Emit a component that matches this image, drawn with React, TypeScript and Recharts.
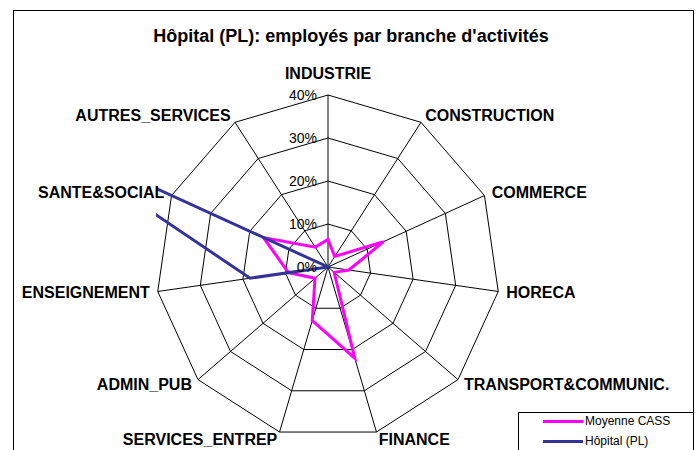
import React from "react";
import {
  RadarChart,
  Radar,
  PolarGrid,
  PolarAngleAxis,
  PolarRadiusAxis,
  Legend,
} from "recharts";

// branches d'activités, dans le sens horaire depuis le haut
const categories = [
  "INDUSTRIE",
  "CONSTRUCTION",
  "COMMERCE",
  "HORECA",
  "TRANSPORT&COMMUNIC.",
  "FINANCE",
  "SERVICES_ENTREP",
  "ADMIN_PUB",
  "ENSEIGNEMENT",
  "SANTE&SOCIAL",
  "AUTRES_SERVICES",
];

// % des employés
const moyenneCass = [6.4, 2.9, 14.2, 4.9, 1.9, 22.1, 13.0, 4.0, 9.3, 16.5, 5.5];
const hopitalPL = [0, 0, 0, 0, 0, 0, 0, 0, 18.3, 75, 0];

const radiusTicks = [0, 10, 20, 30, 40];
const legendOrder = ["Moyenne CASS", "Hôpital (PL)"];

const data = categories.map((name, i) => ({
  name,
  moyenne: moyenneCass[i],
  hopital: hopitalPL[i],
}));

const CX = 328;
const CY = 267;
const R = 172;
const FONT = "Arial, 'Liberation Sans', sans-serif";

const AngleTick = (props: any) => {
  const { x, y, payload, textAnchor } = props;
  const isTop = textAnchor === "middle";
  return (
    <text
      x={x}
      y={isTop ? y - 8 : y}
      textAnchor={textAnchor}
      dominantBaseline={isTop ? "auto" : "central"}
      fontFamily={FONT}
      fontSize={16}
      fontWeight="bold"
      fill="#000"
    >
      {payload.value}
    </text>
  );
};

const RadiusTick = (props: any) => {
  const { x, y, payload } = props;
  return (
    <text
      x={x - 11}
      y={y}
      textAnchor="end"
      dominantBaseline="central"
      fontFamily={FONT}
      fontSize={14}
      fill="#000"
    >
      {`${payload.value}%`}
    </text>
  );
};

// Excel coupe la série à la zone de traçage
const ClippedShape = (props: any) => {
  const pts = props.points || [];
  const d =
    pts.map((p: any, i: number) => `${i ? "L" : "M"}${p.x},${p.y}`).join("") + "Z";
  return (
    <g>
      <defs>
        <clipPath id="plotArea">
          <rect x={CX - R} y={CY - R} width={2 * R} height={2 * R} />
        </clipPath>
      </defs>
      <path
        d={d}
        fill="none"
        stroke={props.stroke}
        strokeWidth={props.strokeWidth}
        clipPath="url(#plotArea)"
      />
    </g>
  );
};

const LegendBox = (props: any) => {
  const items = [...(props.payload || [])].sort(
    (a: any, b: any) => legendOrder.indexOf(a.value) - legendOrder.indexOf(b.value)
  );
  return (
    <div
      style={{
        border: "1px solid #000",
        width: 176,
        height: 50,
        boxSizing: "border-box",
        background: "#fff",
      }}
    >
      {items.map((it: any, i: number) => (
        <div
          key={it.value}
          style={{
            display: "flex",
            alignItems: "center",
            height: 20,
            marginTop: i === 0 ? -2 : 0,
          }}
        >
          <div
            style={{
              marginLeft: 24,
              width: 40,
              height: 3,
              background: it.color,
            }}
          />
          <span
            style={{
              fontFamily: FONT,
              fontSize: 12,
              color: "#000",
              marginLeft: 2,
            }}
          >
            {it.value}
          </span>
        </div>
      ))}
    </div>
  );
};

export default function App() {
  return (
    <div
      style={{
        position: "absolute",
        left: 0,
        top: 0,
        width: 699,
        height: 450,
        overflow: "hidden",
        background: "#fff",
      }}
    >
      <div
        style={{
          position: "absolute",
          left: 13,
          top: 10,
          width: 679,
          height: 460,
          border: "1px solid #000",
        }}
      />
      <div
        style={{
          position: "absolute",
          left: 0,
          width: 702,
          top: 25,
          textAlign: "center",
          fontFamily: FONT,
          fontSize: 18,
          fontWeight: "bold",
          lineHeight: "22px",
        }}
      >
        Hôpital (PL): employés par branche d'activités
      </div>
      <div style={{ position: "absolute", left: 0, top: 0 }}>
        <RadarChart
          width={699}
          height={450}
          data={data}
          cx={CX}
          cy={CY}
          outerRadius={R}
          margin={{ top: 0, right: 0, bottom: 0, left: 0 }}
        >
          <PolarGrid gridType="polygon" stroke="#000" strokeWidth={1} />
          <PolarAngleAxis
            dataKey="name"
            tick={AngleTick}
            tickLine={false}
            axisLine={false}
          />
          <PolarRadiusAxis
            angle={90}
            domain={[0, 40]}
            ticks={radiusTicks}
            tickCount={5}
            allowDataOverflow
            axisLine={false}
            tickLine={false}
            tick={RadiusTick}
          />
          <Radar
            name="Moyenne CASS"
            dataKey="moyenne"
            stroke="#FF00FF"
            strokeWidth={3}
            fill="none"
            fillOpacity={0}
            isAnimationActive={false}
          />
          <Radar
            name="Hôpital (PL)"
            dataKey="hopital"
            stroke="#333399"
            strokeWidth={3}
            fill="none"
            fillOpacity={0}
            shape={ClippedShape}
            isAnimationActive={false}
          />
          <Legend
            layout="vertical"
            verticalAlign="top"
            align="left"
            wrapperStyle={{ left: 518, top: 412, width: 176 }}
            content={LegendBox}
          />
        </RadarChart>
      </div>
    </div>
  );
}
